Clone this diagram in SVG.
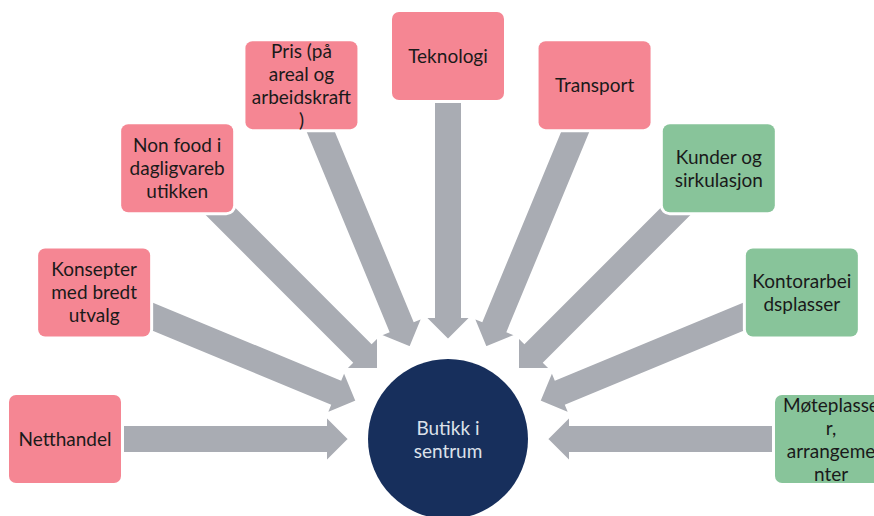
<svg xmlns="http://www.w3.org/2000/svg" width="874" height="516" viewBox="0 0 874 516">
<style>
.arrow{fill:#A9ACB3;stroke:#FFFFFF;stroke-width:2;stroke-linejoin:miter}
.box{stroke:#FFFFFF;stroke-width:6;paint-order:stroke}
.pink{fill:#F58693}
.green{fill:#88C49A}
.lbl{font-family:Lato,"Open Sans","Liberation Sans",sans-serif;font-size:19px;fill:#1A1A1A;text-anchor:middle}
.ctr{font-family:Lato,"Open Sans","Liberation Sans",sans-serif;font-size:19px;fill:#DCE1EA;text-anchor:middle}
</style>
<defs>
<polygon id="arr" points="99,0 122,-23 122,-14 345,-14 345,14 122,14 122,23"/>
</defs>
<rect width="874" height="516" fill="#FFFFFF"/>
<g id="connectors">
<use href="#arr" class="arrow" transform="translate(448,439) rotate(180)"/>
<use href="#arr" class="arrow" transform="translate(448,439) rotate(202.5)"/>
<use href="#arr" class="arrow" transform="translate(448,439) rotate(225)"/>
<use href="#arr" class="arrow" transform="translate(448,439) rotate(247.5)"/>
<use href="#arr" class="arrow" transform="translate(448,439) rotate(270)"/>
<use href="#arr" class="arrow" transform="translate(448,439) rotate(292.5)"/>
<use href="#arr" class="arrow" transform="translate(448,439) rotate(315)"/>
<use href="#arr" class="arrow" transform="translate(448,439) rotate(337.5)"/>
<use href="#arr" class="arrow" transform="translate(448,439) rotate(0)"/>
</g>
<g id="center">
<circle cx="448" cy="439" r="80" fill="#172F5C"/>
<text class="ctr" x="448" y="434.5">Butikk i</text>
<text class="ctr" x="448" y="457.5">sentrum</text>
</g>
<g id="netthandel">
<rect class="box pink" x="9" y="395" width="112" height="88" rx="7"/>
<text class="lbl" x="65" y="446">Netthandel</text>
</g>
<g id="konsepter">
<rect class="box pink" x="38.15" y="248.43" width="112" height="88" rx="7"/>
<text class="lbl" x="94.15" y="276.4">Konsepter</text>
<text class="lbl" x="94.15" y="299.4">med bredt</text>
<text class="lbl" x="94.15" y="322.4">utvalg</text>
</g>
<g id="nonfood">
<rect class="box pink" x="121.18" y="124.18" width="112" height="88" rx="7"/>
<text class="lbl" x="177.18" y="152.2">Non food i</text>
<text class="lbl" x="177.18" y="175.2">dagligvareb</text>
<text class="lbl" x="177.18" y="198.2">utikken</text>
</g>
<g id="pris">
<rect class="box pink" x="245.43" y="41.15" width="112" height="88" rx="7"/>
<text class="lbl" x="301.43" y="57.7">Pris (på</text>
<text class="lbl" x="301.43" y="80.7">areal og</text>
<text class="lbl" x="301.43" y="103.7">arbeidskraft</text>
<text class="lbl" x="301.43" y="126.7">)</text>
</g>
<g id="teknologi">
<rect class="box pink" x="392" y="12" width="112" height="88" rx="7"/>
<text class="lbl" x="448" y="63">Teknologi</text>
</g>
<g id="transport">
<rect class="box pink" x="538.57" y="41.15" width="112" height="88" rx="7"/>
<text class="lbl" x="594.57" y="92.2">Transport</text>
</g>
<g id="kunder">
<rect class="box green" x="662.82" y="124.18" width="112" height="88" rx="7"/>
<text class="lbl" x="718.82" y="163.7">Kunder og</text>
<text class="lbl" x="718.82" y="186.7">sirkulasjon</text>
</g>
<g id="kontor">
<rect class="box green" x="745.85" y="248.43" width="112" height="88" rx="7"/>
<text class="lbl" x="801.85" y="287.9">Kontorarbei</text>
<text class="lbl" x="801.85" y="310.9">dsplasser</text>
</g>
<g id="moteplasser">
<rect class="box green" x="775" y="395" width="112" height="88" rx="7"/>
<text class="lbl" x="831" y="411.5">Møteplasse</text>
<text class="lbl" x="831" y="434.5">r,</text>
<text class="lbl" x="831" y="457.5">arrangeme</text>
<text class="lbl" x="831" y="480.5">nter</text>
</g>
</svg>
